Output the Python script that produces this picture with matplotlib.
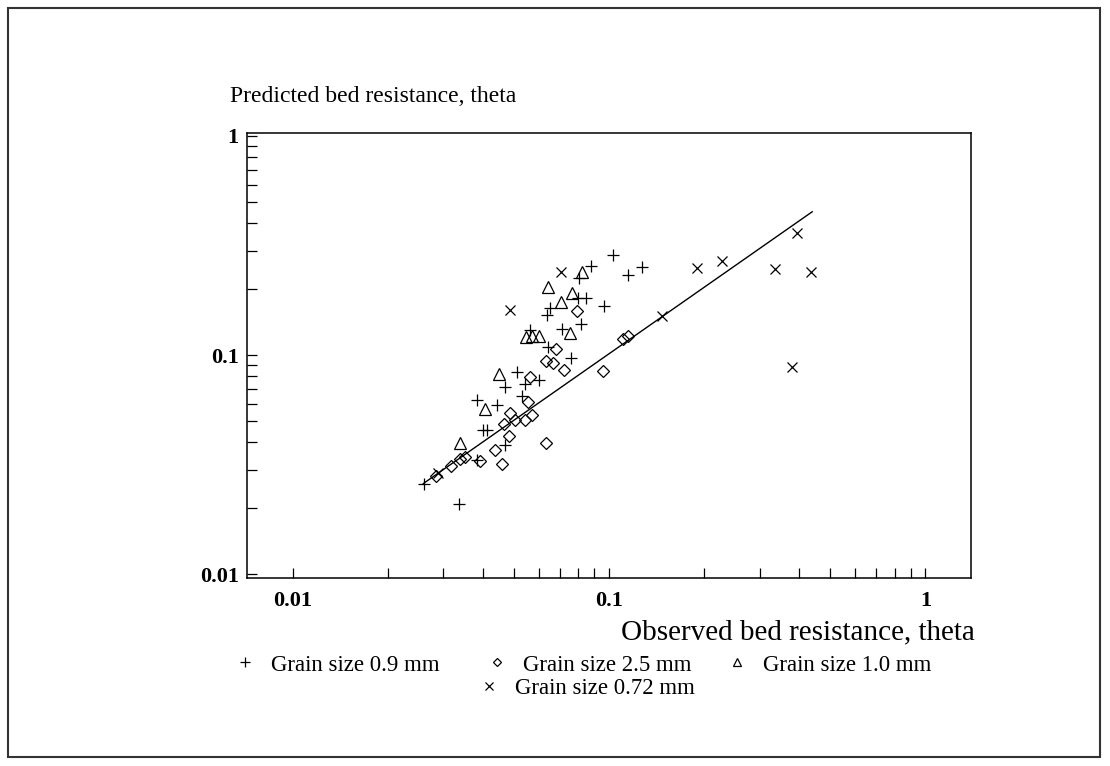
import numpy as np
import matplotlib
matplotlib.use("Agg")
import matplotlib.pyplot as plt
from matplotlib.ticker import FixedLocator, NullFormatter
from matplotlib.patches import Rectangle

plt.rcParams['font.family'] = ['Liberation Serif', 'DejaVu Serif']

# Grain size 0.9 mm (+)
plus_x = [0.0260, 0.0336, 0.0383, 0.0443, 0.0400, 0.0411, 0.0469, 0.0383, 0.0512,
          0.0601, 0.0542, 0.0469, 0.0531, 0.0641, 0.0759, 0.0562, 0.0710, 0.0816,
          0.0651, 0.0637, 0.0798, 0.0845, 0.0964, 0.0804, 0.0877, 0.1029, 0.1148,
          0.1272]
plus_y = [0.0258, 0.0209, 0.0623, 0.0591, 0.0455, 0.0455, 0.0388, 0.0332, 0.0836,
          0.0769, 0.0738, 0.0714, 0.0650, 0.1088, 0.0969, 0.130, 0.1315, 0.1385,
          0.164, 0.152, 0.182, 0.182, 0.1674, 0.2247, 0.255, 0.286, 0.2318,
          0.252]

# Grain size 2.5 mm (diamond)
dia_x = [0.0285, 0.0318, 0.0338, 0.0351, 0.0391, 0.0437, 0.0459, 0.0465, 0.0482,
         0.0485, 0.0506, 0.0544, 0.0571, 0.0555, 0.0633, 0.0564, 0.0631, 0.0668,
         0.0680, 0.0719, 0.0794, 0.0957, 0.1109, 0.1151]
dia_y = [0.0280, 0.0313, 0.0334, 0.0343, 0.0329, 0.0368, 0.0319, 0.0482, 0.0429,
         0.0545, 0.0507, 0.0507, 0.0534, 0.0608, 0.0397, 0.0796, 0.0937, 0.0919,
         0.1065, 0.0854, 0.1594, 0.0847, 0.118, 0.122]

# Grain size 1.0 mm (triangle)
tri_x = [0.0338, 0.0406, 0.0448, 0.0548, 0.0573, 0.0601, 0.0643, 0.0708, 0.0764,
         0.0753, 0.0820]
tri_y = [0.0396, 0.0570, 0.0819, 0.1215, 0.122, 0.122, 0.205, 0.175, 0.191,
         0.1256, 0.240]

# Grain size 0.72 mm (x)
cross_x = [0.0289, 0.0486, 0.0708, 0.1468, 0.1893, 0.2272, 0.3348, 0.392, 0.4342, 0.378]
cross_y = [0.0288, 0.1605, 0.2404, 0.1507, 0.2504, 0.2695, 0.247, 0.3593, 0.2385, 0.0879]

# agreement line
line_x = [0.0259, 0.439]
line_y = [0.0259, 0.451]

major = [0.01, 0.1, 1]
major_labels = ['0.01', '0.1', '1']
minor = [m * d for d in (0.01, 0.1) for m in range(2, 10)]

W, H = 1110, 766
fig = plt.figure(figsize=(W / 100, H / 100), dpi=100)
ax = fig.add_axes([247 / W, 1 - 578 / H, 724 / W, 445 / H])
ax.set_xscale('log')
ax.set_yscale('log')

ax.plot(line_x, line_y, color='black', lw=1.0)
kw = dict(linestyle='none', color='black', mfc='none', mew=0.9)
h1, = ax.plot(plus_x, plus_y, marker='+', ms=9, **kw)
h2, = ax.plot(dia_x, dia_y, marker='D', ms=6, **kw)
h3, = ax.plot(tri_x, tri_y, marker='^', ms=8, **kw)
h4, = ax.plot(cross_x, cross_y, marker='x', ms=7.5, **kw)

ax.set_xlim(0.00718, 1.394)
ax.set_ylim(0.0096, 1.032)

for axis in (ax.xaxis, ax.yaxis):
    axis.set_major_locator(FixedLocator(major))
    axis.set_minor_locator(FixedLocator(minor))
    axis.set_minor_formatter(NullFormatter())
ax.set_xticklabels(major_labels)
ax.set_yticklabels(major_labels)
ax.tick_params(which='both', direction='in', length=7, width=0.9,
               top=False, right=False)
ax.tick_params(axis='x', pad=9, labelsize=16)
ax.tick_params(axis='y', pad=6, labelsize=16)
for lab in ax.get_xticklabels() + ax.get_yticklabels():
    lab.set_fontweight('bold')
for sp in ax.spines.values():
    sp.set_linewidth(1.1)

fig.text(230 / W, 1 - 97 / H, 'Predicted bed resistance, theta',
         ha='left', va='center', fontsize=17)
fig.text(975 / W, 1 - 632 / H, 'Observed bed resistance, theta',
         ha='right', va='center', fontsize=21)

# legend entries placed one by one like the original layout
entries = [(h1, 'Grain size 0.9 mm', 245, 665),
           (h2, 'Grain size 2.5 mm', 497, 665),
           (h3, 'Grain size 1.0 mm', 737, 665),
           (h4, 'Grain size 0.72 mm', 489, 688)]
for h, lab, mx, my in entries:
    fig.legend([h], [lab], loc='center left',
               bbox_to_anchor=((mx - 11) / W, 1 - my / H),
               frameon=False, fontsize=16.5, handlelength=1.0,
               handletextpad=0.6, borderpad=0, borderaxespad=0,
               markerscale=0.75)

# page border
fig.add_artist(Rectangle((8 / W, 1 - 757 / H), 1092 / W, 749 / H,
                         transform=fig.transFigure, fill=False,
                         edgecolor='#333333', lw=1.5))

fig.savefig('out.png', dpi=100)
